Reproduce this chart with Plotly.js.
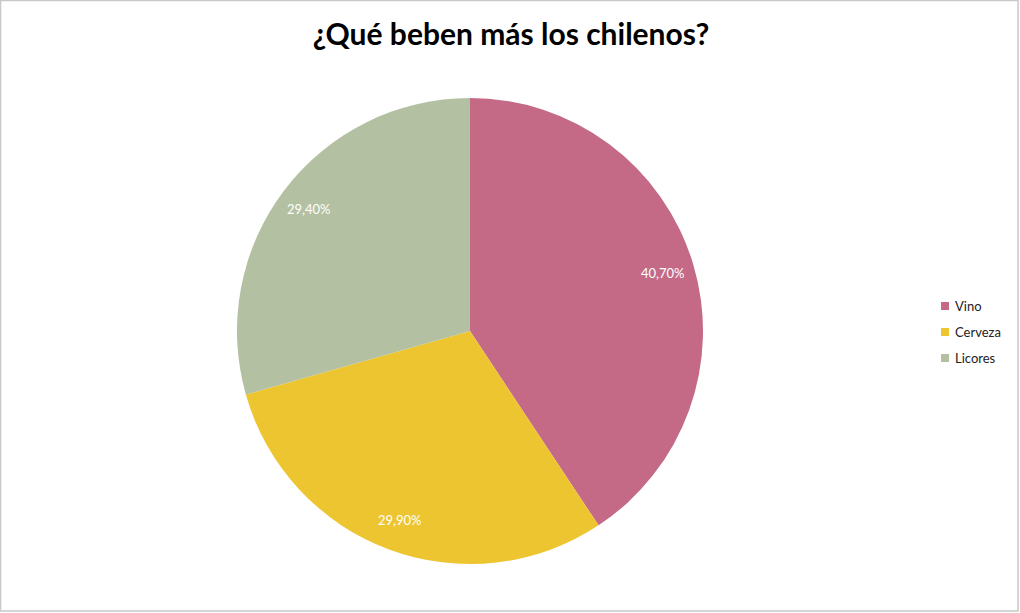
<!DOCTYPE html>
<html>
<head>
<meta charset="utf-8">
<script src="https://cdn.plot.ly/plotly-3.0.1.min.js"></script>
<style>
  html, body { margin: 0; padding: 0; background: #ffffff; }
  #chart { width: 1020px; height: 613px; }
</style>
</head>
<body>
<div id="chart"></div>
<script>
// Consumo de bebidas alcohólicas en Chile (porcentaje)
const categories = ['Vino', 'Cerveza', 'Licores'];
const shares = [40.7, 29.9, 29.4];
const colors = ['#C46A87', '#EDC531', '#B4C0A2'];

const W = 1020, H = 613;
const CX = 470, CY = 331, R = 233;   // pie centre and radius in pixels
const FONT = 'Lato, "Open Sans", sans-serif';

const pie = {
  type: 'pie',
  labels: categories,
  values: shares,
  sort: false,
  direction: 'clockwise',
  rotation: 0,
  marker: { colors: colors, line: { width: 0 } },
  textinfo: 'none',
  hoverinfo: 'label+percent',
  showlegend: false,
  domain: {
    x: [(CX - R) / W, (CX + R) / W],
    y: [(H - CY - R) / H, (H - CY + R) / H]
  }
};

const shapes = [
  { type: 'rect', xref: 'paper', yref: 'paper', x0: 0.5 / W, x1: 1018 / W, y0: 2 / H, y1: 612.5 / H,
    line: { color: '#C8C8C8', width: 1.5 }, fillcolor: 'rgba(0,0,0,0)' }
];
const annotations = [];

// Percentage labels near the outer edge of each slice
const total = shares.reduce((a, b) => a + b, 0);
let cum = 0;
shares.forEach((v) => {
  const mid = (cum + v / 2) / total * 2 * Math.PI;
  cum += v;
  const r = 0.865 * R;
  const px = CX + r * Math.sin(mid);
  const py = CY - r * Math.cos(mid);
  annotations.push({
    xref: 'paper', yref: 'paper', x: px / W, y: (H - py) / H,
    xanchor: 'center', yanchor: 'middle', showarrow: false,
    text: v.toFixed(2).replace('.', ',') + '%',
    font: { family: FONT, size: 13, color: '#ffffff' }
  });
});

// Legend drawn as coloured squares with labels on the right
const legendTop = 306, legendStep = 26, legendX = 945;
categories.forEach((name, i) => {
  const cy = legendTop + i * legendStep;
  shapes.push({
    type: 'rect', xref: 'paper', yref: 'paper',
    x0: (legendX - 4) / W, x1: (legendX + 4) / W,
    y0: (H - cy - 4) / H, y1: (H - cy + 4) / H,
    line: { width: 0 }, fillcolor: colors[i]
  });
  annotations.push({
    xref: 'paper', yref: 'paper', x: (legendX + 8) / W, y: (H - cy) / H,
    xanchor: 'left', yanchor: 'middle', showarrow: false, text: name,
    font: { family: FONT, size: 13, color: '#222222' }
  });
});

const layout = {
  width: W, height: H,
  margin: { l: 0, r: 0, t: 0, b: 0 },
  paper_bgcolor: '#ffffff',
  showlegend: false,
  title: {
    text: '<b>¿Qué beben más los chilenos?</b>',
    font: { family: FONT, size: 30, color: '#000000' },
    x: 511 / W, xanchor: 'center',
    y: 1 - 34 / H, yanchor: 'middle'
  },
  shapes: shapes,
  annotations: annotations
};

Plotly.newPlot('chart', [pie], layout, { displayModeBar: false, staticPlot: true });
</script>
</body>
</html>
